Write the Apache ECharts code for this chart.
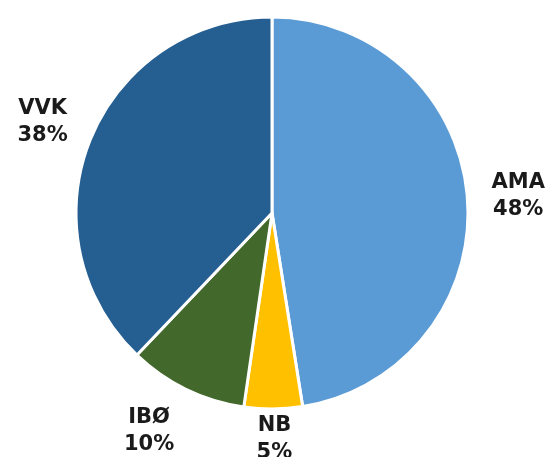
<!DOCTYPE html>
<html><head><meta charset="utf-8">
<script src="https://cdn.jsdelivr.net/npm/echarts@6/dist/echarts.min.js"></script>
<style>html,body{margin:0;padding:0;background:#fff}#c{width:554px;height:457px}</style>
</head><body><div id="c"></div>
<script>
const categories = ['AMA', 'NB', 'IBØ', 'VVK'];
const values = [47.5, 4.8, 9.8, 37.9];
const colors = ['#5B9BD5', '#FFC000', '#43682B', '#255E91'];

const cx = 272, cy = 213, radius = 196;
const labelR = [247, 226, 240, 247];
const labelShift = [[0, 2], [1, 0], [-18, 2], [0, 1]];
const total = values.reduce((a, b) => a + b, 0);
const mids = [];
let acc = 0;
values.forEach(v => { mids.push((acc + v / 2) / total * 2 * Math.PI); acc += v; });

const chart = echarts.init(document.getElementById('c'));
chart.setOption({
  animation: false,
  series: [{
    type: 'pie',
    center: [cx, cy],
    radius: radius,
    startAngle: 90,
    clockwise: true,
    data: categories.map((n, i) => ({ name: n, value: values[i], itemStyle: { color: colors[i] } })),
    itemStyle: { borderColor: '#fff', borderWidth: 3 },
    label: {
      show: true,
      position: 'outside',
      alignTo: 'none',
      overflow: 'none',
      formatter: p => p.name + '\n' + Math.round(p.value) + '%',
      fontFamily: 'DejaVu Sans',
      fontWeight: 'bold',
      fontSize: 21,
      lineHeight: 27,
      color: '#1a1a1a',
      align: 'center'
    },
    labelLine: { show: false },
    labelLayout: p => {
      const i = p.dataIndex;
      const a = mids[i];
      return {
        x: cx + labelR[i] * Math.sin(a) + labelShift[i][0],
        y: cy - labelR[i] * Math.cos(a) + labelShift[i][1],
        align: 'center', verticalAlign: 'middle'
      };
    },
    emphasis: { disabled: true }
  }]
});
</script></body></html>
